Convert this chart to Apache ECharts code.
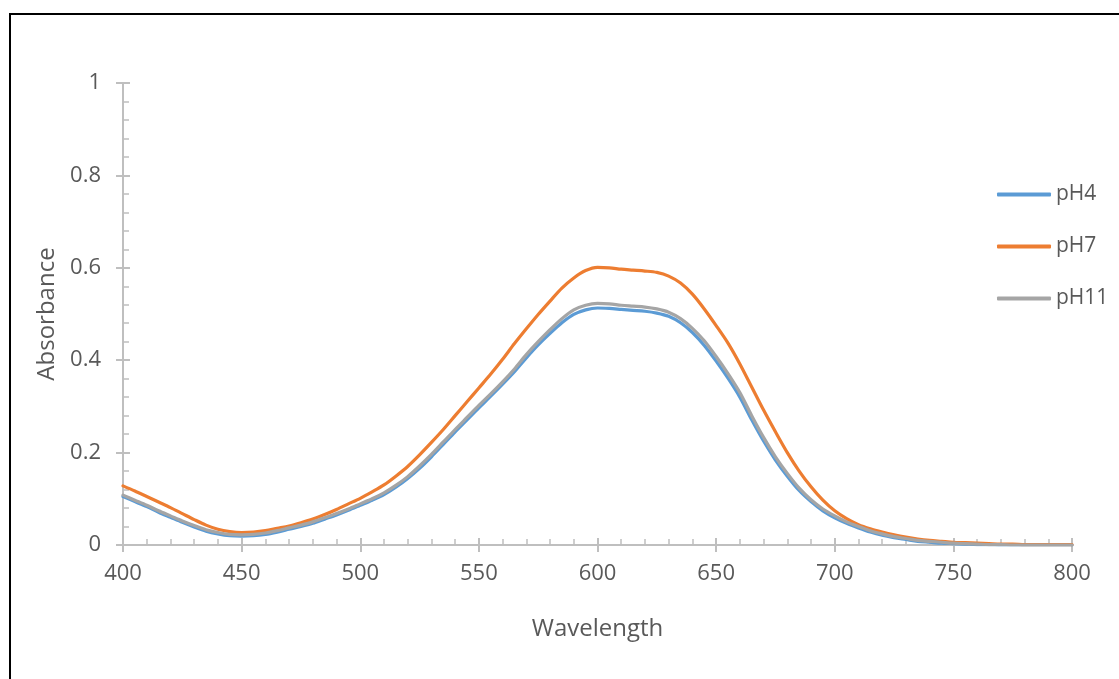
<!DOCTYPE html>
<html>
<head>
<meta charset="utf-8">
<script src="https://cdn.jsdelivr.net/npm/echarts@6/dist/echarts.min.js"></script>
<style>
  html, body { margin: 0; padding: 0; background: #fff; overflow: hidden; }
  #frame { position: absolute; left: 9px; top: 13px; width: 1200px; height: 700px;
           border-left: 2px solid #000; border-top: 2px solid #000; }
  #chart { position: absolute; left: 0; top: 0; width: 1119px; height: 679px; }
</style>
</head>
<body>
<div id="frame"></div>
<div id="chart"></div>
<script>
// wavelength (nm), every 5 nm from 400 to 800
const wavelengths = [400, 405, 410, 415, 420, 425, 430, 435, 440, 445,
  450, 455, 460, 465, 470, 475, 480, 485, 490, 495,
  500, 505, 510, 515, 520, 525, 530, 535, 540, 545,
  550, 555, 560, 565, 570, 575, 580, 585, 590, 595,
  600, 605, 610, 615, 620, 625, 630, 635, 640, 645,
  650, 655, 660, 665, 670, 675, 680, 685, 690, 695,
  700, 705, 710, 715, 720, 725, 730, 735, 740, 745,
  750, 755, 760, 765, 770, 775, 780, 785, 790, 795, 800]

const pH4 = [0.105, 0.094, 0.083, 0.071, 0.060, 0.049, 0.039, 0.030, 0.024, 0.020,
  0.019, 0.020, 0.023, 0.028, 0.034, 0.040, 0.047, 0.056, 0.065, 0.075,
  0.086, 0.097, 0.109, 0.125, 0.144, 0.166, 0.191, 0.218, 0.245, 0.271,
  0.297, 0.322, 0.348, 0.375, 0.405, 0.433, 0.458, 0.481, 0.499, 0.509,
  0.513, 0.512, 0.510, 0.508, 0.506, 0.502, 0.495, 0.481, 0.460, 0.432,
  0.398, 0.361, 0.320, 0.271, 0.225, 0.184, 0.149, 0.118, 0.094, 0.074,
  0.059, 0.047, 0.037, 0.028, 0.021, 0.016, 0.012, 0.008, 0.006, 0.004,
  0.003, 0.002, 0.001, 0.001, 0.000, 0.000, 0.000, 0.000, 0.000, 0.000, 0.000]

const pH7 = [0.128, 0.117, 0.105, 0.093, 0.081, 0.068, 0.055, 0.043, 0.034, 0.029,
  0.027, 0.028, 0.031, 0.036, 0.041, 0.048, 0.056, 0.066, 0.077, 0.089,
  0.101, 0.115, 0.130, 0.149, 0.170, 0.195, 0.222, 0.250, 0.280, 0.310,
  0.340, 0.370, 0.402, 0.436, 0.468, 0.499, 0.528, 0.556, 0.578, 0.594,
  0.601, 0.600, 0.597, 0.595, 0.593, 0.590, 0.582, 0.567, 0.543, 0.511,
  0.475, 0.437, 0.392, 0.342, 0.292, 0.245, 0.200, 0.160, 0.126, 0.097,
  0.074, 0.057, 0.044, 0.035, 0.028, 0.022, 0.017, 0.013, 0.010, 0.008,
  0.006, 0.005, 0.004, 0.003, 0.002, 0.002, 0.001, 0.001, 0.001, 0.001, 0.001]

const pH11 = [0.108, 0.097, 0.086, 0.074, 0.063, 0.052, 0.042, 0.033, 0.027, 0.023,
  0.022, 0.023, 0.026, 0.031, 0.037, 0.043, 0.050, 0.059, 0.068, 0.078,
  0.089, 0.100, 0.113, 0.129, 0.148, 0.171, 0.196, 0.223, 0.250, 0.276,
  0.302, 0.327, 0.353, 0.381, 0.412, 0.440, 0.466, 0.490, 0.509, 0.519,
  0.523, 0.522, 0.519, 0.517, 0.515, 0.511, 0.504, 0.490, 0.469, 0.442,
  0.408, 0.371, 0.330, 0.280, 0.233, 0.191, 0.155, 0.123, 0.098, 0.078,
  0.063, 0.050, 0.040, 0.031, 0.024, 0.018, 0.014, 0.010, 0.008, 0.006,
  0.004, 0.003, 0.002, 0.001, 0.001, 0.000, 0.000, 0.000, 0.000, 0.000, 0.000]

const xTicks = { min: 400, max: 800, interval: 50 }
const yTicks = { min: 0, max: 1, interval: 0.2 }

const FONT = 'Open Sans'
const axisGray = '#BFBFBF'
const textGray = '#595959'

const pairs = ys => wavelengths.map((w, i) => [w, ys[i]])

const chart = echarts.init(document.getElementById('chart'))

const lineSeries = (name, ys, color) => ({
  name,
  type: 'line',
  data: pairs(ys),
  smooth: 0.3,
  symbol: 'none',
  lineStyle: { width: 3.2, color, cap: 'round' },
  itemStyle: { color },
  emphasis: { disabled: true }
})

chart.setOption({
  animation: false,
  textStyle: { fontFamily: FONT },
  grid: { left: 123, right: 47, top: 83, bottom: 134 },
  legend: {
    orient: 'vertical',
    left: 992,
    top: 179,
    itemWidth: 54,
    itemHeight: 4,
    itemGap: 31,
    icon: 'roundRect',
    textStyle: { fontFamily: FONT, fontSize: 21, color: textGray },
    data: ['pH4', 'pH7', 'pH11']
  },
  xAxis: [{
    type: 'value',
    ...xTicks,
    name: 'Wavelength',
    nameLocation: 'middle',
    nameGap: 72,
    nameTextStyle: { fontSize: 24, color: textGray, fontFamily: FONT },
    axisLine: { lineStyle: { color: axisGray, width: 2 } },
    axisTick: { show: true, length: 7, lineStyle: { color: axisGray, width: 2 } },
    axisLabel: { fontSize: 22, color: textGray, margin: 18, fontFamily: FONT },
    splitLine: { show: false }
  }, {
    type: 'value',
    ...xTicks,
    position: 'bottom',
    axisLine: { show: false },
    axisTick: { show: true, inside: true, length: 7, lineStyle: { color: axisGray, width: 2 } },
    minorTick: { show: true, splitNumber: 5, length: 6, lineStyle: { color: axisGray, width: 1.5 } },
    axisLabel: { show: false },
    splitLine: { show: false }
  }],
  yAxis: [{
    type: 'value',
    ...yTicks,
    name: 'Absorbance',
    nameLocation: 'middle',
    nameGap: 62,
    nameTextStyle: { fontSize: 24, color: textGray, fontFamily: FONT },
    axisLine: { show: true, lineStyle: { color: axisGray, width: 2 } },
    axisTick: { show: true, length: 7, lineStyle: { color: axisGray, width: 2 } },
    axisLabel: { fontSize: 22, color: textGray, margin: 22, fontFamily: FONT },
    splitLine: { show: false }
  }, {
    type: 'value',
    ...yTicks,
    position: 'left',
    axisLine: { show: false },
    axisTick: { show: true, inside: true, length: 7, lineStyle: { color: axisGray, width: 2 } },
    minorTick: { show: true, splitNumber: 5, length: 6, lineStyle: { color: axisGray, width: 1.5 } },
    axisLabel: { show: false },
    splitLine: { show: false }
  }],
  series: [
    lineSeries('pH4', pH4, '#5B9BD5'),
    lineSeries('pH7', pH7, '#ED7D31'),
    lineSeries('pH11', pH11, '#A5A5A5')
  ]
})
</script>
</body>
</html>
